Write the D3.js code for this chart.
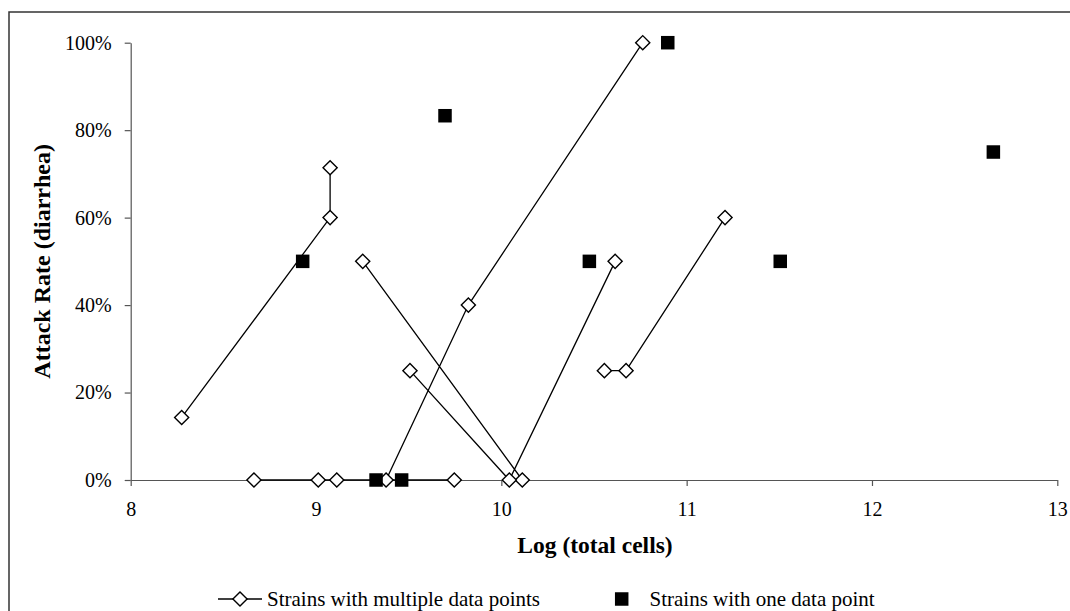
<!DOCTYPE html>
<html>
<head>
<meta charset="utf-8">
<script src="https://cdn.jsdelivr.net/npm/d3@7"></script>
<style>
  html, body { margin: 0; padding: 0; background: #fff; }
  svg { display: block; }
  text { font-family: "Liberation Serif", "Times New Roman", serif; fill: #000; }
</style>
</head>
<body>
<svg id="chart" width="1070" height="611"></svg>
<script>
// Strains with several dose levels: null separates one strain from the next
const multiLogCells = [8.275, 9.076, 9.076, null,
                       8.665, 9.012, 9.112, 9.746, null,
                       9.378, 9.822, 10.763, null,
                       9.252, 10.113, null,
                       9.507, 10.043, 10.614, null,
                       10.556, 10.673, 11.207];
const multiAttack   = [0.143, 0.60, 0.714, null,
                       0, 0, 0, 0, null,
                       0, 0.40, 1.00, null,
                       0.50, 0, null,
                       0.25, 0, 0.50, null,
                       0.25, 0.25, 0.60];

// Strains tested at a single dose
const singleLogCells = [8.928, 9.324, 9.462, 9.696, 10.475, 10.898, 11.505, 12.655];
const singleAttack   = [0.50, 0, 0, 0.833, 0.50, 1.00, 0.50, 0.75];

const xTicks = [8, 9, 10, 11, 12, 13];
const yTicks = [0, 0.2, 0.4, 0.6, 0.8, 1.0];

const xTitle = "Log (total cells)";
const yTitle = "Attack Rate (diarrhea)";
const legendLabels = ["Strains with multiple data points", "Strains with one data point"];

const svg = d3.select("#chart");

const x = d3.scaleLinear().domain([8, 13]).range([130.7, 1057.3]);
const y = d3.scaleLinear().domain([0, 1]).range([480, 42.7]);

// outer frame
svg.append("rect")
  .attr("x", 9).attr("y", 12)
  .attr("width", 1080).attr("height", 620)
  .attr("fill", "none").attr("stroke", "#333").attr("stroke-width", 1.5);

// axes
const yAxis = svg.append("g")
  .attr("transform", `translate(${x(8)},0)`)
  .call(d3.axisLeft(y).tickValues(yTicks).tickFormat(d3.format(".0%"))
    .tickSize(6).tickSizeOuter(0).tickPadding(13));
const xAxis = svg.append("g")
  .attr("transform", `translate(0,${y(0)})`)
  .call(d3.axisBottom(x).tickValues(xTicks).tickFormat(d3.format("d"))
    .tickSize(6).tickSizeOuter(0).tickPadding(16));

[yAxis, xAxis].forEach(g => {
  g.select(".domain").attr("stroke", "#555").attr("stroke-width", 1.2);
  g.selectAll(".tick line").attr("stroke", "#555").attr("stroke-width", 1.2);
  g.selectAll(".tick text")
    .attr("font-family", "Liberation Serif, Times New Roman, serif")
    .attr("font-size", 20).attr("fill", "#000");
});

// axis titles
svg.append("text")
  .attr("x", (x(8) + x(13)) / 2 + 1).attr("y", 553)
  .attr("text-anchor", "middle")
  .attr("font-size", 23.5).attr("font-weight", "bold")
  .text(xTitle);

svg.append("text")
  .attr("transform", `translate(50,${(y(0) + y(1)) / 2}) rotate(-90)`)
  .attr("text-anchor", "middle")
  .attr("font-size", 24).attr("font-weight", "bold")
  .text(yTitle);

// data
const multiPts = multiLogCells.map((v, i) => ({ x: v, y: multiAttack[i] }));
const singlePts = singleLogCells.map((v, i) => ({ x: v, y: singleAttack[i] }));

const line = d3.line()
  .defined(d => d.x !== null && d.y !== null)
  .x(d => x(d.x)).y(d => y(d.y));

svg.append("path")
  .datum(multiPts)
  .attr("d", line)
  .attr("fill", "none").attr("stroke", "#000").attr("stroke-width", 1.3);

const diamond = d3.symbol().type(d3.symbolSquare).size(100);

svg.append("g").selectAll("path")
  .data(multiPts.filter(d => d.x !== null))
  .join("path")
  .attr("d", diamond)
  .attr("transform", d => `translate(${x(d.x)},${y(d.y)}) rotate(45)`)
  .attr("fill", "#fff").attr("stroke", "#000").attr("stroke-width", 1.4);

const sq = 13.5;
svg.append("g").selectAll("rect")
  .data(singlePts)
  .join("rect")
  .attr("x", d => x(d.x) - sq / 2).attr("y", d => y(d.y) - sq / 2)
  .attr("width", sq).attr("height", sq)
  .attr("fill", "#000");

// legend
const legY = 599;
const leg = svg.append("g");
leg.append("line")
  .attr("x1", 218).attr("x2", 262).attr("y1", legY).attr("y2", legY)
  .attr("stroke", "#000").attr("stroke-width", 1.3);
leg.append("path")
  .attr("d", diamond)
  .attr("transform", `translate(240,${legY}) rotate(45)`)
  .attr("fill", "#fff").attr("stroke", "#000").attr("stroke-width", 1.4);
leg.append("text")
  .attr("x", 267).attr("y", legY + 7)
  .attr("font-size", 21)
  .text(legendLabels[0]);
leg.append("rect")
  .attr("x", 621.7 - sq / 2).attr("y", legY - sq / 2)
  .attr("width", sq).attr("height", sq).attr("fill", "#000");
leg.append("text")
  .attr("x", 649.5).attr("y", legY + 7)
  .attr("font-size", 21)
  .text(legendLabels[1]);
</script>
</body>
</html>
